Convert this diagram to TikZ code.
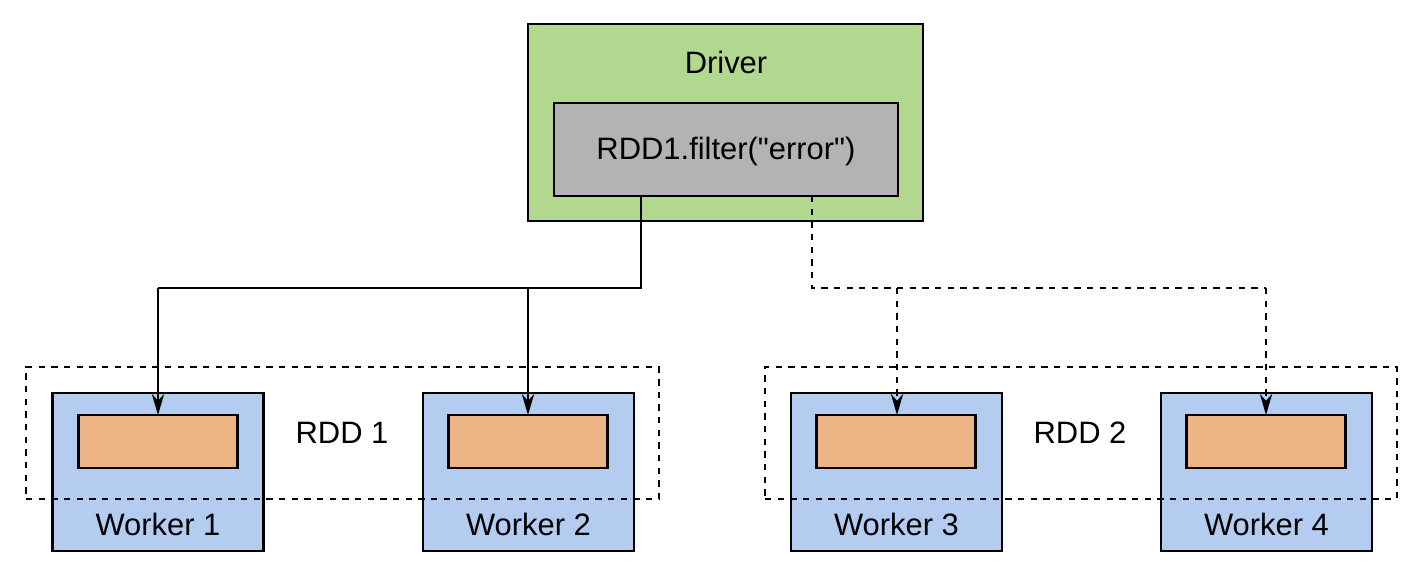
\documentclass[tikz,border=0pt]{standalone}
\usepackage{fontspec}
\setmainfont{Liberation Sans}
\usetikzlibrary{arrows.meta}
\definecolor{drvgreen}{RGB}{178,216,144}
\definecolor{boxgray}{RGB}{179,179,179}
\definecolor{wrkblue}{RGB}{179,204,240}
\definecolor{rddorange}{RGB}{237,181,134}
\begin{document}
\begin{tikzpicture}[x=0.02cm,y=-0.02cm,
  font=\fontsize{17.6}{21}\selectfont,
  box/.style={draw=black,line width=1.4pt,inner sep=0pt,outer sep=0pt},
  driverbox/.style={box,fill=drvgreen,minimum width=7.9cm,minimum height=3.94cm},
  opbox/.style={box,fill=boxgray,minimum width=6.88cm,minimum height=1.86cm},
  workerbox/.style={box,fill=wrkblue,minimum width=4.22cm,minimum height=3.16cm},
  partbox/.style={box,fill=rddorange,minimum width=3.18cm,minimum height=1.06cm},
  rddgroup/.style={draw=black,line width=1.3pt,dash pattern=on 3.6pt off 3.6pt,inner sep=0pt,outer sep=0pt,minimum height=2.64cm},
  lbl/.style={anchor=base,inner sep=0pt},
  link/.style={line width=1.3pt,-{Stealth[length=12pt,width=7pt]}},
  dlink/.style={link,dash pattern=on 3.6pt off 3.6pt},
  seg/.style={line width=1.3pt},
  dseg/.style={seg,dash pattern=on 3.6pt off 3.6pt}]
\useasboundingbox (0,0) rectangle (1423,576);
% driver
\node[driverbox] (driver) at (725.5,122.5) {};
\node[lbl] (drvlbl) at (726,73) {Driver};
\node[opbox] (op) at (726,149.5) {};
\node[lbl] (oplbl) at (726,159) {RDD1.filter(\textquotedbl error\textquotedbl)};
% workers
\node[workerbox] (w1) at (158,472) {};
\node[workerbox] (w2) at (528.5,472) {};
\node[workerbox] (w3) at (896.5,472) {};
\node[workerbox] (w4) at (1266.5,472) {};
\node[lbl] (w1l) at (158,535) {Worker 1};
\node[lbl] (w2l) at (528.5,535) {Worker 2};
\node[lbl] (w3l) at (896.5,535) {Worker 3};
\node[lbl] (w4l) at (1266.5,535) {Worker 4};
\node[partbox] (p1) at (158,441.5) {};
\node[partbox] (p2) at (528,441.5) {};
\node[partbox] (p3) at (896,441.5) {};
\node[partbox] (p4) at (1266,441.5) {};
% rdd groups
\node[rddgroup,minimum width=12.66cm] (rdd1) at (342.5,433) {};
\node[rddgroup,minimum width=12.64cm] (rdd2) at (1081,433) {};
\node[lbl] (rdd1l) at (342,443) {RDD 1};
\node[lbl] (rdd2l) at (1080,443) {RDD 2};
% connectors
\coordinate (s0) at (641,288);
\coordinate (s1) at (158,288);
\coordinate (s2) at (528,288);
\coordinate (d0) at (812,288);
\coordinate (d1) at (897,288);
\coordinate (d2) at (1266,288);
\draw[seg] (op.south -| s0) -- (s0) -- (s1);
\draw[link] (s1) -- (p1.north);
\draw[link] (s2) -- (p2.north);
\draw[dseg] (op.south -| d0) -- (d0) -- (d2);
\draw[dlink] (d1) -- (d1 |- p3.north);
\draw[dlink] (d2) -- (p4.north);
\end{tikzpicture}
\end{document}
